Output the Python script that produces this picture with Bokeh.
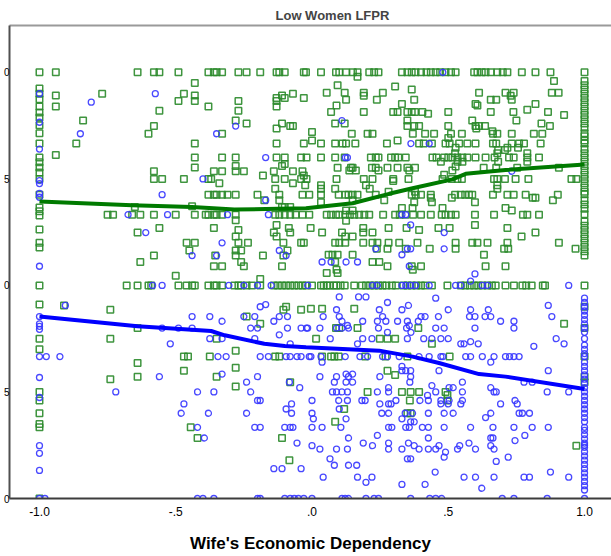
from bokeh.plotting import figure
from bokeh.models import Range1d, FixedTicker, LinearAxis, ColumnDataSource
from bokeh.embed import file_html
from bokeh.resources import INLINE

# ---------------- data ----------------
# Green squares (one group), points on the x = -1.0 edge
green_left_y = [1.0, 0.962, 0.95, 0.937, 0.92, 0.906, 0.894, 0.876, 0.857, 0.833, 0.80, 0.789,
                0.777, 0.765, 0.75, 0.713, 0.683, 0.674, 0.664, 0.631, 0.60, 0.589, 0.50, 0.455,
                0.375, 0.35, 0.25, 0.23, 0.20, 0.175, 0.167, 0.0]
# Green squares on the x = 1.0 edge
green_right_y = [1.0, 0.98, 0.97, 0.96, 0.95, 0.94, 0.93, 0.92, 0.91, 0.90, 0.89, 0.88, 0.87, 0.857,
                 0.85, 0.84, 0.833, 0.82, 0.81, 0.80, 0.79, 0.78, 0.77, 0.76, 0.75, 0.74, 0.73, 0.72,
                 0.714, 0.70, 0.69, 0.68, 0.667, 0.65, 0.64, 0.63, 0.62, 0.61, 0.60, 0.59, 0.58, 0.57,
                 0.50, 0.45, 0.40, 0.333, 0.286, 0.273]
# Green squares inside, as (x, y)
green_pts = [
    (-0.94, 1.0), (-0.64, 1.0), (-0.58, 1.0), (-0.56, 1.0), (-0.49, 1.0), (-0.38, 1.0), (-0.36, 1.0),
    (-0.35, 1.0), (-0.33, 1.0), (-0.27, 1.0), (-0.24, 1.0), (-0.19, 1.0), (-0.13, 1.0), (-0.12, 1.0),
    (-0.10, 1.0), (-0.03, 1.0), (-0.43, 0.975), (-0.77, 0.95), (-0.47, 0.95), (-0.07, 0.95),
    (-0.94, 0.946), (-0.43, 0.946), (-0.11, 0.946), (-0.13, 0.94), (-0.10, 0.94), (-0.03, 0.94),
    (-0.49, 0.933), (-0.43, 0.933), (-0.27, 0.933), (-0.13, 0.933), (-0.94, 0.92), (-0.38, 0.92),
    (-0.13, 0.92), (-0.56, 0.91), (-0.27, 0.91), (-0.84, 0.887), (-0.28, 0.887), (-0.24, 0.88),
    (-0.11, 0.88), (-0.58, 0.874), (-0.08, 0.874), (-0.07, 0.874), (-0.13, 0.868), (-0.60, 0.856),
    (-0.33, 0.856), (0.0, 0.86), (-0.865, 0.833), (-0.43, 0.833), (-0.13, 0.833), (-0.03, 0.833),
    (0.0, 0.84), (-0.94, 0.806), (-0.43, 0.80), (-0.33, 0.80), (-0.28, 0.80), (-0.13, 0.80),
    (-0.10, 0.80), (-0.04, 0.80), (-0.02, 0.80), (-0.43, 0.777), (-0.28, 0.78), (-0.11, 0.78),
    (-0.10, 0.785), (-0.58, 0.768), (-0.36, 0.768), (-0.33, 0.768), (-0.28, 0.768), (-0.25, 0.768),
    (-0.14, 0.768), (-0.07, 0.768), (-0.035, 0.768), (-0.18, 0.758), (-0.03, 0.758),
    (-0.58, 0.75), (-0.55, 0.75), (-0.47, 0.75), (-0.38, 0.75), (-0.37, 0.75), (-0.135, 0.75),
    (-0.10, 0.75), (-0.04, 0.75), (-0.02, 0.75), (-0.34, 0.74), (-0.07, 0.74), (-0.135, 0.727),
    (-0.025, 0.735), (-0.38, 0.713), (-0.36, 0.713), (-0.35, 0.713), (-0.33, 0.713), (-0.31, 0.713),
    (-0.28, 0.713), (-0.20, 0.713), (-0.12, 0.713), (-0.035, 0.713), (-0.01, 0.713), (-0.175, 0.70),
    (-0.12, 0.70), (-0.65, 0.684), (-0.44, 0.686), (-0.11, 0.684), (-0.10, 0.684), (-0.08, 0.684),
    (-0.75, 0.666), (-0.73, 0.666), (-0.66, 0.666), (-0.63, 0.666), (-0.58, 0.666), (-0.50, 0.666),
    (-0.43, 0.666), (-0.39, 0.666), (-0.38, 0.666), (-0.36, 0.666), (-0.35, 0.666), (-0.33, 0.666),
    (-0.28, 0.666), (-0.135, 0.666), (-0.12, 0.666), (-0.10, 0.666), (-0.08, 0.666), (-0.06, 0.666),
    (-0.035, 0.666), (-0.01, 0.666), (-0.28, 0.653), (-0.13, 0.642), (-0.56, 0.635), (-0.36, 0.635),
    (-0.085, 0.635), (-0.005, 0.635), (-0.27, 0.63), (-0.64, 0.624), (-0.14, 0.624), (-0.08, 0.624),
    (-0.28, 0.615), (-0.13, 0.615), (-0.46, 0.60), (-0.43, 0.60), (-0.27, 0.60), (-0.235, 0.60),
    (-0.105, 0.60), (-0.04, 0.60), (-0.03, 0.60), (-0.45, 0.582), (-0.28, 0.582), (-0.26, 0.582),
    (-0.09, 0.582), (-0.58, 0.57), (-0.355, 0.57), (-0.28, 0.57), (-0.18, 0.57), (-0.105, 0.57),
    (-0.63, 0.555), (-0.26, 0.555), (-0.36, 0.545), (-0.33, 0.545), (-0.25, 0.545), (-0.11, 0.545),
    (-0.50, 0.523), (-0.19, 0.515),
    (-0.68, 0.5), (-0.64, 0.5), (-0.60, 0.5), (-0.59, 0.5), (-0.49, 0.5), (-0.46, 0.5), (-0.44, 0.5),
    (-0.43, 0.5), (-0.38, 0.5), (-0.36, 0.5), (-0.35, 0.5), (-0.33, 0.5), (-0.285, 0.5), (-0.27, 0.5),
    (-0.26, 0.5), (-0.24, 0.5), (-0.22, 0.5), (-0.19, 0.5), (-0.14, 0.5), (-0.125, 0.5), (-0.11, 0.5),
    (-0.095, 0.5), (-0.08, 0.5), (-0.065, 0.5), (-0.05, 0.5), (-0.035, 0.5),
    (-0.91, 0.453), (-0.74, 0.443), (-0.095, 0.45), (-0.105, 0.443), (-0.04, 0.443), (-0.24, 0.427),
    (-0.19, 0.41), (-0.64, 0.40), (-0.74, 0.375), (-0.35, 0.375), (-0.28, 0.347), (-0.47, 0.333),
    (-0.455, 0.333), (-0.375, 0.333), (-0.135, 0.333), (-0.12, 0.333), (-0.64, 0.318), (-0.28, 0.307),
    (-0.47, 0.30), (-0.74, 0.28), (-0.64, 0.286), (-0.35, 0.286), (-0.08, 0.273), (-0.28, 0.263),
    (-0.445, 0.167), (-0.42, 0.142), (-0.11, 0.142), (-0.083, 0.09),
    (-0.022, 1.0), (0.033, 1.0), (0.088, 1.0), (0.10, 1.0), (0.125, 1.0), (0.15, 1.0), (0.167, 1.0),
    (0.21, 1.0), (0.228, 1.0), (0.244, 1.0), (0.33, 1.0), (0.35, 1.0), (0.366, 1.0), (0.38, 1.0),
    (0.40, 1.0), (0.42, 1.0), (0.436, 1.0), (0.454, 1.0), (0.47, 1.0), (0.49, 1.0), (0.51, 1.0),
    (0.527, 1.0), (0.595, 1.0), (0.607, 1.0), (0.623, 1.0), (0.637, 1.0), (0.656, 1.0), (0.68, 1.0),
    (0.70, 1.0), (0.717, 1.0), (0.77, 1.0), (0.82, 1.0), (0.875, 1.0),
    (0.167, 0.99), (0.888, 0.98), (0.305, 0.967), (0.366, 0.96), (0.094, 0.97),
    (0.054, 0.952), (0.12, 0.952), (0.19, 0.952), (0.26, 0.952), (0.613, 0.952), (0.71, 0.952),
    (0.74, 0.952), (0.88, 0.952), (0.905, 0.952), (0.19, 0.945), (0.729, 0.945),
    (0.125, 0.936), (0.238, 0.936), (0.375, 0.936), (0.656, 0.936), (0.676, 0.936), (0.733, 0.936),
    (0.33, 0.926), (0.60, 0.926), (0.82, 0.926), (0.09, 0.922), (0.607, 0.922), (0.79, 0.912),
    (0.07, 0.907), (0.19, 0.907), (0.298, 0.907), (0.314, 0.907), (0.35, 0.907), (0.366, 0.907),
    (0.378, 0.907), (0.405, 0.907), (0.50, 0.907), (0.656, 0.907), (0.739, 0.907), (0.866, 0.907),
    (0.426, 0.903), (0.925, 0.90), (0.35, 0.887), (0.588, 0.887), (0.75, 0.887), (0.085, 0.88),
    (0.12, 0.88), (0.842, 0.88), (0.35, 0.874), (0.375, 0.874), (0.393, 0.874), (0.50, 0.874),
    (0.60, 0.874), (0.613, 0.874), (0.635, 0.874), (0.873, 0.874), (0.603, 0.868), (0.662, 0.862),
    (0.146, 0.856), (0.204, 0.856), (0.222, 0.856), (0.37, 0.856), (0.415, 0.856), (0.448, 0.856),
    (0.51, 0.856), (0.55, 0.856), (0.664, 0.856), (0.68, 0.856), (0.733, 0.856), (0.814, 0.856),
    (0.845, 0.856), (0.50, 0.846), (0.314, 0.84),
    (0.033, 0.833), (0.085, 0.833), (0.112, 0.833), (0.125, 0.833), (0.159, 0.833), (0.275, 0.833),
    (0.393, 0.833), (0.41, 0.833), (0.44, 0.833), (0.49, 0.833), (0.505, 0.833), (0.54, 0.833),
    (0.57, 0.833), (0.60, 0.833), (0.664, 0.833), (0.676, 0.833), (0.733, 0.833), (0.76, 0.833),
    (0.778, 0.833), (0.839, 0.833), (0.717, 0.823), (0.756, 0.823), (0.527, 0.823), (0.708, 0.818),
    (0.683, 0.818), (0.525, 0.81), (0.79, 0.81), (0.68, 0.81),
    (0.033, 0.80), (0.085, 0.80), (0.12, 0.80), (0.216, 0.80), (0.234, 0.80), (0.244, 0.80),
    (0.29, 0.80), (0.305, 0.80), (0.317, 0.80), (0.344, 0.80), (0.442, 0.80), (0.457, 0.80),
    (0.485, 0.80), (0.50, 0.80), (0.515, 0.80), (0.534, 0.80), (0.552, 0.80), (0.57, 0.80),
    (0.60, 0.80), (0.637, 0.80), (0.67, 0.80), (0.723, 0.80), (0.74, 0.80), (0.79, 0.80), (0.833, 0.80),
    (0.473, 0.79), (0.534, 0.79), (0.552, 0.79), (0.683, 0.79), (0.79, 0.79), (0.527, 0.779),
    (0.094, 0.776), (0.143, 0.776), (0.149, 0.776), (0.22, 0.776), (0.234, 0.776), (0.277, 0.776),
    (0.314, 0.776), (0.35, 0.776), (0.378, 0.776), (0.63, 0.776), (0.676, 0.776), (0.753, 0.776),
    (0.906, 0.776), (0.137, 0.77), (0.161, 0.77), (0.244, 0.77), (0.357, 0.77), (0.515, 0.77),
    (0.485, 0.76),
    (0.09, 0.75), (0.19, 0.75), (0.222, 0.75), (0.298, 0.75), (0.354, 0.75), (0.479, 0.75),
    (0.513, 0.75), (0.534, 0.75), (0.55, 0.75), (0.668, 0.75), (0.68, 0.75), (0.708, 0.75),
    (0.747, 0.75), (0.794, 0.75), (0.952, 0.75), (0.97, 0.75), (0.298, 0.745), (0.198, 0.735),
    (0.68, 0.735), (0.033, 0.735), (0.033, 0.727), (0.085, 0.727), (0.212, 0.727), (0.68, 0.727),
    (0.281, 0.72), (0.378, 0.72),
    (0.033, 0.713), (0.098, 0.713), (0.122, 0.713), (0.134, 0.713), (0.149, 0.713), (0.167, 0.713),
    (0.234, 0.713), (0.366, 0.713), (0.381, 0.713), (0.40, 0.713), (0.436, 0.713), (0.525, 0.713),
    (0.546, 0.713), (0.562, 0.713), (0.576, 0.713), (0.588, 0.713), (0.664, 0.713), (0.717, 0.713),
    (0.74, 0.713), (0.784, 0.713), (0.902, 0.713), (0.436, 0.706), (0.513, 0.706), (0.81, 0.706),
    (0.82, 0.706), (0.149, 0.70), (0.265, 0.70), (0.884, 0.70), (0.033, 0.695), (0.598, 0.695),
    (0.44, 0.695), (0.375, 0.695), (0.33, 0.682), (0.369, 0.682), (0.479, 0.682), (0.71, 0.682),
    (0.125, 0.676), (0.149, 0.676), (0.733, 0.676),
    (0.054, 0.666), (0.07, 0.666), (0.088, 0.666), (0.10, 0.666), (0.122, 0.666), (0.139, 0.666),
    (0.155, 0.666), (0.173, 0.666), (0.192, 0.666), (0.21, 0.666), (0.261, 0.666), (0.305, 0.666),
    (0.322, 0.666), (0.344, 0.666), (0.371, 0.666), (0.40, 0.666), (0.436, 0.666), (0.476, 0.666),
    (0.49, 0.666), (0.51, 0.666), (0.527, 0.666), (0.598, 0.666), (0.668, 0.666), (0.774, 0.666),
    (0.79, 0.666), (0.833, 0.666), (0.125, 0.652), (0.598, 0.642), (0.188, 0.635), (0.281, 0.635),
    (0.347, 0.635), (0.464, 0.635), (0.505, 0.635), (0.717, 0.635), (0.393, 0.63), (0.037, 0.624),
    (0.11, 0.624), (0.188, 0.624), (0.222, 0.624), (0.82, 0.624), (0.149, 0.615), (0.769, 0.615),
    (0.122, 0.615),
    (0.085, 0.60), (0.10, 0.60), (0.122, 0.60), (0.188, 0.60), (0.222, 0.60), (0.24, 0.60),
    (0.281, 0.60), (0.32, 0.60), (0.387, 0.60), (0.527, 0.60), (0.588, 0.60), (0.607, 0.60),
    (0.644, 0.60), (0.717, 0.60), (0.906, 0.60), (0.238, 0.586), (0.277, 0.586), (0.344, 0.586),
    (0.432, 0.586), (0.527, 0.586), (0.705, 0.586), (0.72, 0.586), (0.967, 0.586), (0.061, 0.572),
    (0.075, 0.572), (0.094, 0.572), (0.149, 0.572), (0.631, 0.572), (0.085, 0.555), (0.222, 0.555),
    (0.247, 0.555), (0.277, 0.545), (0.366, 0.545), (0.40, 0.545), (0.637, 0.545), (0.71, 0.545),
    (0.09, 0.537), (0.37, 0.537), (0.054, 0.529), (0.094, 0.529),
    (-0.022, 0.5), (0.0, 0.5), (0.033, 0.5), (0.043, 0.5), (0.054, 0.5), (0.065, 0.5), (0.08, 0.5),
    (0.09, 0.5), (0.105, 0.5), (0.12, 0.5), (0.155, 0.5), (0.183, 0.5), (0.198, 0.5), (0.213, 0.5),
    (0.228, 0.5), (0.244, 0.5), (0.259, 0.5), (0.273, 0.5), (0.293, 0.5), (0.308, 0.5), (0.335, 0.5),
    (0.35, 0.5), (0.366, 0.5), (0.383, 0.5), (0.40, 0.5), (0.415, 0.5), (0.44, 0.5), (0.497, 0.5),
    (0.546, 0.5), (0.562, 0.5), (0.579, 0.5), (0.595, 0.5), (0.61, 0.5), (0.625, 0.5), (0.644, 0.5),
    (0.66, 0.5), (0.674, 0.5), (0.71, 0.5), (0.741, 0.5), (0.772, 0.5), (0.786, 0.5), (0.806, 0.5),
    (0.847, 0.5), (0.855, 0.5),
    (-0.004, 0.445), (0.037, 0.445), (0.155, 0.445), (0.925, 0.41), (0.088, 0.40), (0.10, 0.40),
    (0.167, 0.40), (0.39, 0.40), (0.015, 0.375), (0.249, 0.375), (0.277, 0.375), (0.305, 0.375),
    (0.44, 0.363), (0.037, 0.333), (0.07, 0.333), (0.082, 0.333), (0.098, 0.333), (0.195, 0.333),
    (0.27, 0.333), (0.35, 0.333), (0.505, 0.333), (0.277, 0.30), (0.305, 0.29), (0.204, 0.25),
    (0.33, 0.25), (0.362, 0.25), (0.393, 0.25), (0.49, 0.25), (0.497, 0.243), (0.359, 0.23),
    (0.497, 0.23), (0.118, 0.21), (0.35, 0.20), (0.362, 0.20), (0.085, 0.18), (0.97, 0.124),
]

# Blue circles (other group), points on the x = -1.0 edge
blue_left_y = [0.95, 0.883, 0.82, 0.746, 0.739, 0.716, 0.707, 0.545, 0.427, 0.41, 0.404, 0.397,
               0.333, 0.284, 0.237, 0.124, 0.106, 0.066, 0.0]
# Blue circles on the x = 1.0 edge
blue_right_y = [0.47, 0.46, 0.45, 0.44, 0.43, 0.42, 0.41, 0.40, 0.39, 0.375, 0.36, 0.35, 0.34, 0.333,
                0.32, 0.31, 0.30, 0.29, 0.28, 0.27, 0.26, 0.25, 0.24, 0.23, 0.22, 0.21, 0.20, 0.19,
                0.18, 0.167, 0.16, 0.15, 0.14, 0.13, 0.125, 0.12, 0.11, 0.10, 0.09, 0.08, 0.07, 0.06,
                0.05, 0.04, 0.03, 0.02, 0.0]
# Blue circles inside, as (x, y)
blue_pts = [
    (-0.98, 0.0), (-0.975, 0.333), (-0.925, 0.333), (-0.905, 0.453),
    (-0.575, 0.95), (-0.81, 0.93), (-0.28, 0.874), (-0.85, 0.856), (-0.35, 0.856), (-0.17, 0.80),
    (-0.40, 0.75), (-0.55, 0.713), (-0.17, 0.70), (-0.675, 0.666), (-0.53, 0.666), (-0.31, 0.666),
    (-0.16, 0.666), (-0.61, 0.624), (-0.33, 0.60), (-0.12, 0.582), (-0.44, 0.57), (-0.35, 0.57),
    (-0.095, 0.57), (-0.585, 0.5), (-0.55, 0.5), (-0.305, 0.5), (-0.25, 0.5), (-0.20, 0.5),
    (-0.15, 0.5), (-0.016, 0.5), (-0.19, 0.45), (-0.17, 0.455), (-0.44, 0.427), (-0.375, 0.427),
    (-0.25, 0.427), (-0.21, 0.427), (-0.12, 0.427), (-0.09, 0.427), (-0.33, 0.416), (-0.14, 0.416),
    (-0.55, 0.40), (-0.49, 0.40), (-0.44, 0.40), (-0.225, 0.40), (-0.20, 0.40), (-0.09, 0.40),
    (-0.04, 0.40), (-0.02, 0.40), (-0.12, 0.384), (-0.375, 0.375), (-0.33, 0.375), (-0.21, 0.375),
    (-0.52, 0.363), (-0.08, 0.363), (-0.345, 0.333), (-0.315, 0.333), (-0.19, 0.333), (-0.16, 0.333),
    (-0.095, 0.333), (-0.08, 0.333), (-0.055, 0.333), (-0.04, 0.333), (-0.01, 0.333), (-0.33, 0.292),
    (-0.56, 0.286), (-0.20, 0.286), (-0.24, 0.273), (-0.083, 0.273), (-0.045, 0.26), (-0.72, 0.25),
    (-0.42, 0.25), (-0.36, 0.25), (-0.225, 0.25), (-0.20, 0.23), (-0.19, 0.23), (-0.47, 0.222),
    (-0.075, 0.222), (-0.095, 0.21), (-0.48, 0.20), (-0.38, 0.20), (-0.24, 0.20), (-0.075, 0.20),
    (-0.42, 0.167), (-0.21, 0.167), (-0.19, 0.167), (-0.10, 0.167), (-0.08, 0.167), (-0.07, 0.167),
    (-0.395, 0.142), (-0.055, 0.13), (-0.14, 0.07), (-0.11, 0.07), (-0.04, 0.07),
    (-0.42, 0.0), (-0.40, 0.0), (-0.36, 0.0), (-0.20, 0.0), (-0.19, 0.0), (-0.10, 0.0), (-0.08, 0.0),
    (-0.065, 0.0), (-0.05, 0.0), (-0.03, 0.0),
    (0.48, 1.0), (0.11, 0.887), (0.363, 0.833), (0.43, 0.833), (0.122, 0.80), (0.13, 0.80),
    (0.733, 0.768), (0.33, 0.666), (0.344, 0.666), (0.362, 0.642), (0.485, 0.624), (0.35, 0.586),
    (0.362, 0.586), (0.234, 0.586), (0.485, 0.586), (0.33, 0.572), (0.037, 0.555), (0.07, 0.555),
    (0.125, 0.555), (0.167, 0.555), (0.357, 0.545), (0.598, 0.527), (0.582, 0.51),
    (0.222, 0.5), (0.24, 0.5), (0.33, 0.5), (0.344, 0.5), (0.362, 0.5), (0.38, 0.5), (0.43, 0.5),
    (0.527, 0.5), (0.546, 0.5), (0.625, 0.5), (0.644, 0.5), (0.942, 0.5),
    (0.10, 0.473), (0.171, 0.473), (0.198, 0.473), (0.454, 0.47), (0.277, 0.46), (0.867, 0.453),
    (0.354, 0.453), (0.09, 0.443), (0.247, 0.443), (0.33, 0.443), (0.50, 0.443), (0.582, 0.443),
    (0.647, 0.443), (0.041, 0.427), (0.10, 0.427), (0.259, 0.427), (0.40, 0.427), (0.415, 0.427),
    (0.464, 0.427), (0.578, 0.427), (0.598, 0.427), (0.635, 0.427), (0.656, 0.427), (0.88, 0.427),
    (0.11, 0.416), (0.186, 0.416), (0.24, 0.416), (0.271, 0.416), (0.314, 0.416), (0.35, 0.416),
    (0.39, 0.416), (0.692, 0.416), (0.741, 0.416), (0.13, 0.406), (0.357, 0.406),
    (-0.016, 0.40), (0.029, 0.40), (0.09, 0.40), (0.11, 0.40), (0.134, 0.40), (0.244, 0.40),
    (0.347, 0.40), (0.454, 0.40), (0.485, 0.40), (0.598, 0.40), (0.741, 0.40), (0.363, 0.39),
    (0.277, 0.39), (0.067, 0.375), (0.186, 0.375), (0.22, 0.375), (0.35, 0.375), (0.41, 0.375),
    (0.44, 0.375), (0.473, 0.375), (0.50, 0.375), (0.896, 0.375), (0.167, 0.363), (0.546, 0.363),
    (0.558, 0.363), (0.61, 0.363), (0.925, 0.363), (0.582, 0.368), (0.814, 0.357),
    (-0.004, 0.333), (0.033, 0.333), (0.122, 0.333), (0.176, 0.333), (0.204, 0.333), (0.259, 0.333),
    (0.277, 0.333), (0.32, 0.333), (0.393, 0.333), (0.43, 0.333), (0.473, 0.333), (0.48, 0.333),
    (0.564, 0.333), (0.582, 0.333), (0.625, 0.333), (0.668, 0.333), (0.71, 0.333), (0.725, 0.333),
    (0.741, 0.333), (0.76, 0.333), (0.656, 0.32), (0.037, 0.32), (0.33, 0.31), (0.466, 0.30),
    (0.867, 0.30), (0.33, 0.30), (0.344, 0.30), (0.362, 0.30), (0.149, 0.292), (0.125, 0.292),
    (0.029, 0.286), (0.09, 0.286), (0.134, 0.286), (0.249, 0.286), (0.362, 0.286), (0.082, 0.273),
    (0.125, 0.273), (0.149, 0.273), (0.359, 0.273), (0.552, 0.273), (0.778, 0.273), (0.808, 0.273),
    (0.44, 0.265), (0.281, 0.26), (0.503, 0.26), (0.518, 0.26), (0.656, 0.26),
    (0.075, 0.25), (0.09, 0.25), (0.11, 0.25), (0.13, 0.25), (0.24, 0.25), (0.281, 0.25),
    (0.454, 0.25), (0.552, 0.25), (0.668, 0.25), (0.676, 0.25), (0.863, 0.25), (0.942, 0.25),
    (0.424, 0.242), (0.0, 0.23), (0.098, 0.23), (0.13, 0.23), (0.183, 0.23), (0.195, 0.23),
    (0.308, 0.23), (0.396, 0.23), (0.427, 0.23), (0.473, 0.23), (0.503, 0.23), (0.552, 0.23),
    (0.745, 0.23), (0.249, 0.222), (0.281, 0.222), (0.29, 0.222), (0.473, 0.222), (0.50, 0.222),
    (0.546, 0.222), (0.692, 0.222), (0.753, 0.222), (0.10, 0.21),
    (0.0, 0.20), (0.256, 0.20), (0.281, 0.20), (0.342, 0.20), (0.369, 0.20), (0.427, 0.20),
    (0.485, 0.20), (0.518, 0.20), (0.656, 0.20), (0.76, 0.20), (0.772, 0.20), (0.798, 0.20),
    (0.637, 0.19), (0.125, 0.187), (0.33, 0.187), (0.005, 0.187), (0.362, 0.18), (0.375, 0.18),
    (0.0, 0.167), (0.037, 0.167), (0.106, 0.167), (0.281, 0.167), (0.293, 0.167), (0.344, 0.167),
    (0.357, 0.167), (0.405, 0.167), (0.427, 0.167), (0.485, 0.167), (0.582, 0.167), (0.664, 0.167),
    (0.741, 0.167), (0.808, 0.167), (0.867, 0.167), (0.24, 0.148), (0.781, 0.148), (0.134, 0.142),
    (0.427, 0.142), (0.656, 0.142), (0.664, 0.142), (0.745, 0.136), (0.188, 0.13), (0.281, 0.13),
    (0.354, 0.13), (0.576, 0.13), (0.0, 0.124), (0.222, 0.124), (0.375, 0.124), (0.466, 0.124),
    (0.542, 0.124), (0.656, 0.124), (0.029, 0.116), (0.09, 0.116), (0.13, 0.116), (0.281, 0.116),
    (0.33, 0.116), (0.393, 0.116), (0.427, 0.116), (0.454, 0.116), (0.534, 0.116), (0.60, 0.116),
    (0.668, 0.116), (0.49, 0.109), (0.485, 0.097), (0.72, 0.097), (0.066, 0.093), (0.35, 0.093),
    (0.362, 0.093), (0.676, 0.087), (0.082, 0.078), (0.134, 0.078), (0.164, 0.078), (0.452, 0.062),
    (0.875, 0.062), (0.041, 0.05), (0.167, 0.05), (0.22, 0.05), (0.558, 0.05), (0.60, 0.05),
    (0.668, 0.05), (0.778, 0.05), (0.798, 0.05), (0.942, 0.05), (0.198, 0.038), (0.33, 0.033),
    (0.415, 0.033), (0.623, 0.024),
    (0.0, 0.0), (0.11, 0.0), (0.122, 0.0), (0.134, 0.0), (0.198, 0.0), (0.228, 0.0), (0.244, 0.0),
    (0.362, 0.0), (0.432, 0.0), (0.454, 0.0), (0.476, 0.0), (0.698, 0.0), (0.741, 0.0), (0.863, 0.0),
]

# Fit lines
green_fit_x = [-1.0, -0.66, -0.44, -0.285, -0.125, -0.022, 0.149, 0.283, 0.369, 0.515, 0.564, 0.71, 1.0]
green_fit_y = [0.697, 0.688, 0.684, 0.678, 0.680, 0.681, 0.693, 0.715, 0.728, 0.749, 0.762, 0.771, 0.784]
blue_fit_x = [-1.0, -0.64, -0.37, -0.32, -0.175, -0.10, -0.022, 0.247, 0.369, 0.466, 0.613, 0.71, 1.0]
blue_fit_y = [0.427, 0.404, 0.393, 0.383, 0.363, 0.358, 0.355, 0.347, 0.333, 0.318, 0.292, 0.286, 0.257]

x_ticks = [-1.0, -0.5, 0.0, 0.5, 1.0]
x_tick_labels = ["-1.0", "-.5", ".0", ".5", "1.0"]
y_ticks = [0.0, 0.25, 0.5, 0.75, 1.0]
y_tick_labels = ["0", "5", "0", "5", "0"]   # only the visible ends of the clipped labels

title_text = "Low Women LFPR"
x_title = "Wife's Economic Dependency"

# ---------------- build ----------------
gx = [-1.0] * len(green_left_y) + [1.0] * len(green_right_y) + [p[0] for p in green_pts]
gy = green_left_y + green_right_y + [p[1] for p in green_pts]
bx = [-1.0] * len(blue_left_y) + [1.0] * len(blue_right_y) + [p[0] for p in blue_pts]
by = blue_left_y + blue_right_y + [p[1] for p in blue_pts]

FONT = "Liberation Sans"

p = figure(width=611, height=556, x_range=Range1d(-1.11, 1.099), y_range=Range1d(0, 1.11),
           output_backend="svg", toolbar_location=None,
           min_border_left=0, min_border_right=0, min_border_top=25, min_border_bottom=58,
           title=title_text)
p.background_fill_color = "white"
p.border_fill_color = "white"
p.outline_line_color = None
p.xgrid.visible = False
p.ygrid.visible = False

p.title.text_font = FONT
p.title.text_font_size = "13px"
p.title.text_font_style = "bold"
p.title.align = "left"
p.title.offset = 266
p.title.standoff = 5

xa = p.below[0]
ya = p.left[0]

# top frame line
top = LinearAxis(ticker=FixedTicker(ticks=[]), axis_line_color="#9a9a9a", axis_line_width=2,
                 major_tick_out=0, major_tick_in=0, minor_tick_out=0, minor_tick_in=0,
                 major_label_standoff=0, major_label_text_font_size="1px")
p.add_layout(top, "above")

xa.ticker = FixedTicker(ticks=x_ticks)
xa.major_label_overrides = dict(zip(x_ticks, x_tick_labels))
xa.major_label_text_font = FONT
xa.major_label_text_font_size = "12px"
xa.major_label_text_color = "black"
xa.major_label_standoff = 8
xa.major_tick_out = 0
xa.major_tick_in = 0
xa.minor_tick_out = 0
xa.minor_tick_in = 0
xa.axis_line_color = "#3c3c3c"
xa.axis_line_width = 2
xa.axis_label = x_title
xa.axis_label_text_font = FONT
xa.axis_label_text_font_size = "17px"
xa.axis_label_text_font_style = "bold"
xa.axis_label_text_color = "black"
xa.axis_label_standoff = 15

ya.ticker = FixedTicker(ticks=y_ticks)
ya.major_label_overrides = dict(zip(y_ticks, y_tick_labels))
ya.major_label_text_font = FONT
ya.major_label_text_font_size = "10px"
ya.major_label_text_color = "black"
ya.major_label_standoff = 0
ya.major_tick_out = 0
ya.major_tick_in = 0
ya.minor_tick_out = 0
ya.minor_tick_in = 0
ya.axis_line_color = "#505050"
ya.axis_line_width = 2

gsrc = ColumnDataSource(dict(x=gx, y=gy))
bsrc = ColumnDataSource(dict(x=bx, y=by))
p.scatter("x", "y", source=gsrc, marker="square", size=6.5, fill_color=None,
          line_color="#2a8a2a", line_width=1.5, line_alpha=0.9)
p.scatter("x", "y", source=bsrc, marker="circle", size=6, fill_color=None,
          line_color="#3535ff", line_width=1.3, line_alpha=0.9)

p.line(green_fit_x, green_fit_y, line_color="#007a00", line_width=4)
p.line(blue_fit_x, blue_fit_y, line_color="#0000ff", line_width=4)

open("out.html", "w").write(file_html(p, INLINE))
